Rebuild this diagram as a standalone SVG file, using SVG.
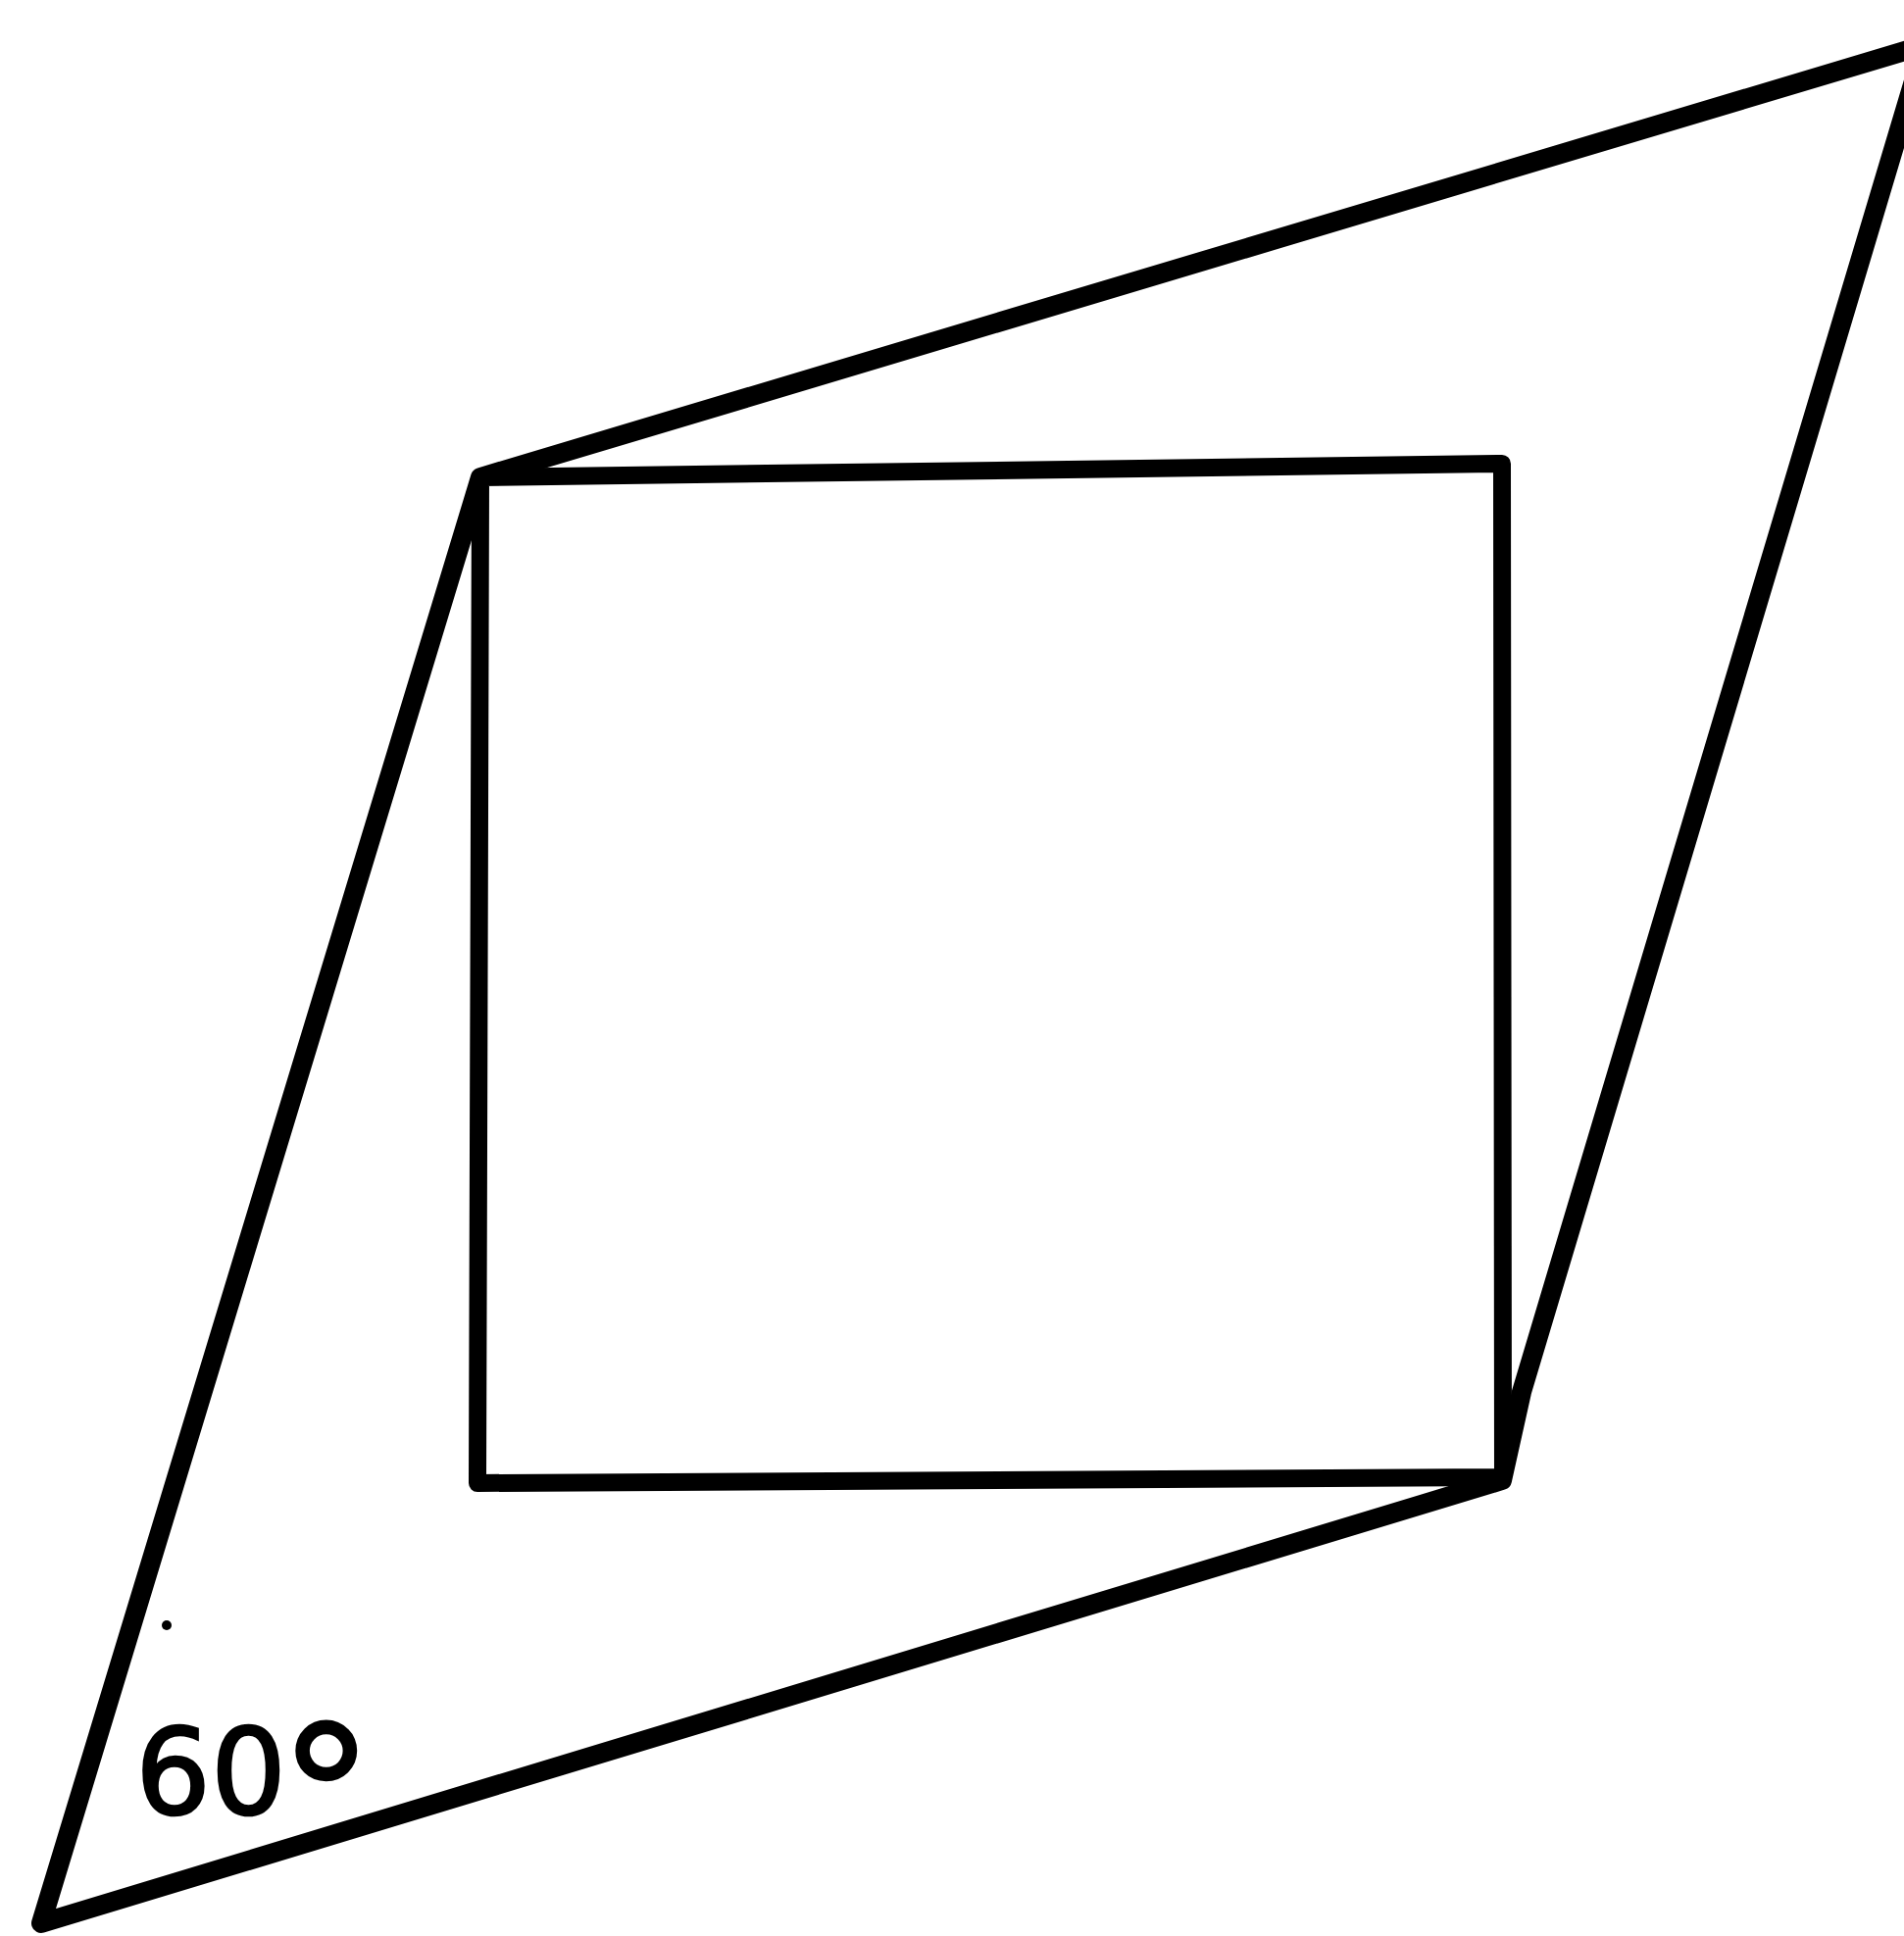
<svg xmlns="http://www.w3.org/2000/svg" width="1942" height="1975" viewBox="0 0 1942 1975">
<style>
.ln{fill:none;stroke:#000;stroke-linejoin:round;stroke-linecap:round}
.lbl{font-family:"DejaVu Sans",sans-serif;fill:#000;stroke:#000;stroke-width:2.5}
</style>
<rect width="1942" height="1975" fill="#fff"/>
<g id="rhombus">
<path class="ln" stroke-width="20" d="M42,1962 L490,487 L1963,46 L1552,1420 L1532,1510 Z"/>
</g>
<g id="square">
<path class="ln" stroke-width="18" d="M490,487 L1532,473 L1533,1507 L487,1513 Z"/>
</g>
<g id="dot"><circle cx="170" cy="1658" r="5" fill="#000"/></g>
<g id="angle-label">
<text class="lbl" x="138" y="1850" font-size="121">60<tspan font-size="195" x="284" y="1900">°</tspan></text>
</g>
</svg>
